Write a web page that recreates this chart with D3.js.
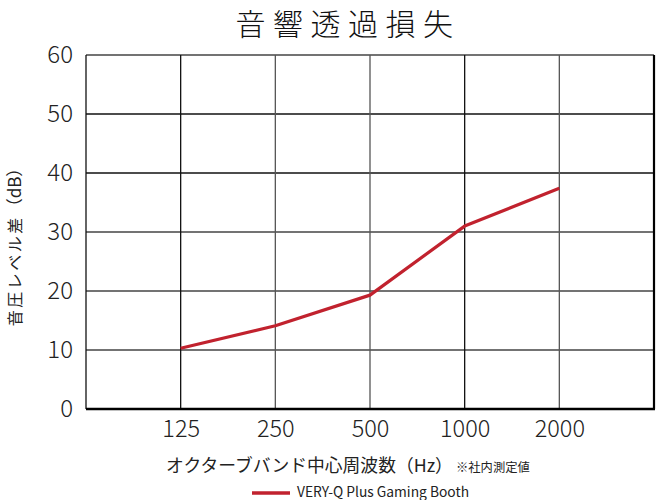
<!DOCTYPE html>
<html><head><meta charset="utf-8">
<script src="https://cdn.jsdelivr.net/npm/d3@7"></script>
<style>body{margin:0;background:#fff}svg{display:block}text{font-family:"Noto Sans CJK JP","Noto Sans",sans-serif}</style>
</head><body><svg id="c" width="656" height="500"></svg>
<script>
const categories = ["125","250","500","1000","2000"];
const values = [10.3, 14.1, 19.3, 31.0, 37.4];
const yTicks = [0,10,20,30,40,50,60];
const seriesName = "VERY-Q Plus Gaming Booth";
const title = "音響透過損失";
const xLabel = "オクターブバンド中心周波数（Hz）";
const note = "※社内測定値";
const yLabelMain = "音圧レベル差";
const yLabelUnit = "（dB）";

const svg = d3.select("#c");
const L=86,R=654,T=55,B=409;
const slots = ["", ...categories, " "];
const x = d3.scalePoint().domain(slots).range([L,R]);
const y = d3.scaleLinear().domain([0,60]).range([B,T]);

// grid
svg.append("g").selectAll("line").data(yTicks).join("line")
  .attr("x1",L).attr("x2",R).attr("y1",d=>y(d)).attr("y2",d=>y(d))
  .attr("stroke",(d,i)=> (d===40||d===50)?"#111":"#444").attr("stroke-width",1.3);
svg.append("g").selectAll("line").data(slots).join("line")
  .attr("x1",d=>x(d)).attr("x2",d=>x(d)).attr("y1",T).attr("y2",B)
  .attr("stroke",d=>(d==="125"||d==="1000"||d==="")?"#111":"#555").attr("stroke-width",1.3);
svg.append("line").attr("x1",L).attr("x2",R+1).attr("y1",B).attr("y2",B).attr("stroke","#000").attr("stroke-width",2.5);
svg.append("line").attr("x1",R).attr("x2",R).attr("y1",T).attr("y2",B).attr("stroke","#000").attr("stroke-width",2.2);

// axes
const ya = d3.axisLeft(y).tickValues(yTicks).tickSize(0).tickPadding(13);
const gy = svg.append("g").attr("transform",`translate(${L},0)`).call(ya);
gy.select(".domain").remove();
gy.selectAll("text").attr("font-size",24).attr("font-weight",300).attr("fill","#222");
const xa = d3.axisBottom(x).tickValues(categories).tickSize(0).tickPadding(11);
const gx = svg.append("g").attr("transform",`translate(0,${B})`).call(xa);
gx.select(".domain").remove();
gx.selectAll("text").attr("font-size",23.5).attr("font-weight",300).attr("fill","#222");

// line
const line = d3.line().x((d,i)=>x(categories[i])).y(d=>y(d));
svg.append("path").datum(values).attr("d",line).attr("fill","none")
  .attr("stroke","#c1222e").attr("stroke-width",3.2).attr("stroke-linejoin","round");

// texts
svg.append("text").attr("x",348).attr("y",35).attr("text-anchor","middle")
  .attr("font-size",30).attr("font-weight",300).attr("letter-spacing",7.5).attr("fill","#111").text(title);
svg.append("text").attr("x",166).attr("y",472).attr("font-size",17.8).attr("fill","#222").text(xLabel);
svg.append("text").attr("x",456).attr("y",472).attr("font-size",12.3).attr("fill","#222").text(note);
const yl = svg.append("text").attr("transform","translate(21,243) rotate(-90)").attr("text-anchor","middle")
  .attr("font-size",16).attr("fill","#222");
yl.append("tspan").attr("letter-spacing",2.5).text(yLabelMain);
yl.append("tspan").attr("font-size",17).text(yLabelUnit);
// legend
svg.append("line").attr("x1",252).attr("x2",290).attr("y1",493).attr("y2",493).attr("stroke","#c1222e").attr("stroke-width",3.5);
svg.append("text").attr("x",297).attr("y",497).attr("font-size",13.8).attr("fill","#222").text(seriesName);
</script></body></html>
